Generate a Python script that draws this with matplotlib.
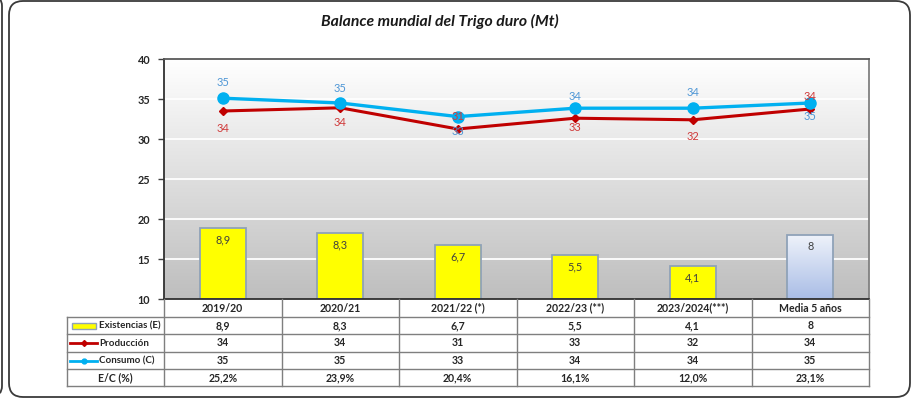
import numpy as np
import matplotlib
matplotlib.use('Agg')
import matplotlib.pyplot as plt
from matplotlib.patches import FancyBboxPatch, Rectangle
from matplotlib.lines import Line2D
from matplotlib.transforms import blended_transform_factory, IdentityTransform
import matplotlib.colors as mcolors

# ---------------- data ----------------
categories = ['2019/20', '2020/21', '2021/22 (*)', '2022/23 (**)', '2023/2024(***)', 'Media 5 años']
existencias = [8.9, 8.3, 6.7, 5.5, 4.1, 8.0]
produccion = [33.5, 33.9, 31.25, 32.6, 32.4, 33.75]
consumo = [35.1, 34.5, 32.8, 33.85, 33.85, 34.5]
existencias_txt = ['8,9', '8,3', '6,7', '5,5', '4,1', '8']
produccion_txt = ['34', '34', '31', '33', '32', '34']
consumo_txt = ['35', '35', '33', '34', '34', '35']
ec_txt = ['25,2%', '23,9%', '20,4%', '16,1%', '12,0%', '23,1%']
row_names = ['Existencias (E)', 'Producción', 'Consumo (C)', 'E/C (%)']
yticks = [10, 15, 20, 25, 30, 35, 40]
title = 'Balance mundial del Trigo duro (Mt)'
bar_base = 10

# ---------------- style ----------------
FONT = 'Lato'
plt.rcParams['font.family'] = [FONT, 'DejaVu Sans']
W, H = 914, 405
fig = plt.figure(figsize=(W / 100, H / 100), dpi=100)
fig.patch.set_facecolor('white')

def fx(px):
    return px / W

def fy(py):
    return 1 - py / H

# outer rounded frames (pixel coordinates, origin bottom-left)
fig.patches.append(FancyBboxPatch((9, H - 397), 901, 396,
                                  boxstyle='round,pad=0,rounding_size=14',
                                  transform=IdentityTransform(), fill=False,
                                  ec='#3a3a3a', lw=1.3))
fig.patches.append(FancyBboxPatch((-40, H - 396), 42, 400,
                                  boxstyle='round,pad=0,rounding_size=10',
                                  transform=IdentityTransform(), fill=False,
                                  ec='#3a3a3a', lw=1.3))

fig.text(fx(440), fy(21), title, ha='center', va='center', fontsize=11.3,
         fontweight='bold', fontstyle='italic', color='#1a1a1a')

# axes
L, R, T, B = 164, 869, 59, 299
ax = fig.add_axes([fx(L), fy(B), fx(R) - fx(L), (B - T) / H])
x = np.arange(len(categories))

grad = np.linspace(0, 1, 256).reshape(-1, 1)
bg_cmap = mcolors.LinearSegmentedColormap.from_list('bg', ['#FFFFFF', '#BEBEBE'])
ax.imshow(grad, extent=(-0.5, 5.5, 10, 40), aspect='auto', cmap=bg_cmap, zorder=0,
          origin='upper')
for yv in yticks[1:-1]:
    ax.axhline(yv, color='white', lw=1.3, zorder=1)

bar_colors = ['#FFFF00'] * 5 + ['none']
bars = ax.bar(x, existencias, bottom=bar_base, width=0.39, color=bar_colors,
              edgecolor='#8FA2B8', lw=1.3, zorder=2)
# gradient fill for Media bar
mb = bars[-1]
bcmap = mcolors.LinearSegmentedColormap.from_list('bb', ['#EEF2FA', '#A9BDE6'])
im = ax.imshow(grad, extent=(mb.get_x(), mb.get_x() + mb.get_width(),
                             bar_base, bar_base + existencias[-1]),
               aspect='auto', cmap=bcmap, zorder=1.9, origin='upper')
im.set_clip_path(mb)
ax.set_xlim(-0.5, 5.5)
ax.set_ylim(10, 40)

for i, b in enumerate(bars):
    ax.annotate(existencias_txt[i], (x[i], bar_base + existencias[i]),
                xytext=(0, -12), textcoords='offset pixels', ha='center', va='center',
                fontsize=7.8, color='#404040', zorder=6)

ax.plot(x, produccion, color='#C00000', lw=2.2, marker='D', ms=4.5, zorder=4)
ax.plot(x, consumo, color='#00B0F0', lw=2.4, marker='o', ms=8, zorder=5)

cons_off = [16, 14, -15, 12, 16, -13]
prod_off = [-17, -15, 13, -9, -17, 12]
for i in range(len(x)):
    ax.annotate(consumo_txt[i], (x[i], consumo[i]), xytext=(0, cons_off[i]),
                textcoords='offset pixels', ha='center', va='center',
                fontsize=8, color='#4F97D6', zorder=7)
    ax.annotate(produccion_txt[i], (x[i], produccion[i]), xytext=(0, prod_off[i]),
                textcoords='offset pixels', ha='center', va='center',
                fontsize=8, color='#D03A3A', zorder=7)

ax.set_yticks(yticks)
ax.set_yticklabels([str(v) for v in yticks], fontsize=7.8, fontweight='bold',
                   color='#262626')
ax.tick_params(axis='y', length=4, width=1, color='#404040', pad=6)
ax.set_xticks([])
ax.spines['left'].set_color('#303030')
ax.spines['bottom'].set_color('#303030')
ax.spines['top'].set_color('#595959')
ax.spines['right'].set_color('#808080')
for s in ax.spines.values():
    s.set_linewidth(1.3)
    s.set_zorder(8)

# ---------------- data table ----------------
lc = '#7F7F7F'
rows_y = [299, 317, 334, 352, 369, 386]
TL = 67
colw = (R - L) / len(categories)

def hline(x0, x1, yp):
    fig.add_artist(Line2D([fx(x0), fx(x1)], [fy(yp), fy(yp)], color=lc, lw=1,
                          transform=fig.transFigure))

def vline(xp, y0, y1):
    fig.add_artist(Line2D([fx(xp), fx(xp)], [fy(y0), fy(y1)], color=lc, lw=1,
                          transform=fig.transFigure))

for yp in rows_y[1:]:
    hline(TL, R, yp)
vline(TL, rows_y[1], rows_y[-1])
for k in range(len(categories) + 1):
    vline(L + k * colw, rows_y[0], rows_y[-1])

tr = blended_transform_factory(ax.transData, fig.transFigure)
tkw = dict(ha='center', va='center', fontsize=7.6, fontweight='bold', color='#262626')
row_vals = [existencias_txt, produccion_txt, consumo_txt, ec_txt]
for i, c in enumerate(categories):
    fig.text(x[i], fy((rows_y[0] + rows_y[1]) / 2), c, transform=tr, **tkw)
    for r, vals in enumerate(row_vals):
        fig.text(x[i], fy((rows_y[r + 1] + rows_y[r + 2]) / 2), vals[i], transform=tr, **tkw)

# row headers with legend keys
for r, name in enumerate(row_names):
    yc = (rows_y[r + 1] + rows_y[r + 2]) / 2
    if r == 3:
        fig.text(fx((TL + L) / 2), fy(yc), name, **tkw)
        continue
    fig.text(fx(99), fy(yc), name, ha='left', va='center', fontsize=7.0,
             fontweight='bold', color='#262626')
    if r == 0:
        fig.add_artist(Rectangle((fx(72), fy(yc + 3)), fx(96) - fx(72), fy(yc - 3) - fy(yc + 3),
                                 transform=fig.transFigure, fc='#FFFF00', ec='#8FA2B8', lw=1))
    elif r == 1:
        fig.add_artist(Line2D([fx(70), fx(97)], [fy(yc), fy(yc)], color='#C00000', lw=2,
                              transform=fig.transFigure))
        fig.add_artist(Line2D([fx(83.5)], [fy(yc)], color='#C00000', marker='D', ms=3,
                              transform=fig.transFigure))
    else:
        fig.add_artist(Line2D([fx(70), fx(97)], [fy(yc), fy(yc)], color='#00B0F0', lw=2,
                              transform=fig.transFigure))
        fig.add_artist(Line2D([fx(83.5)], [fy(yc)], color='#00B0F0', marker='o', ms=3.5,
                              transform=fig.transFigure))

fig.savefig('out.png', dpi=100)
